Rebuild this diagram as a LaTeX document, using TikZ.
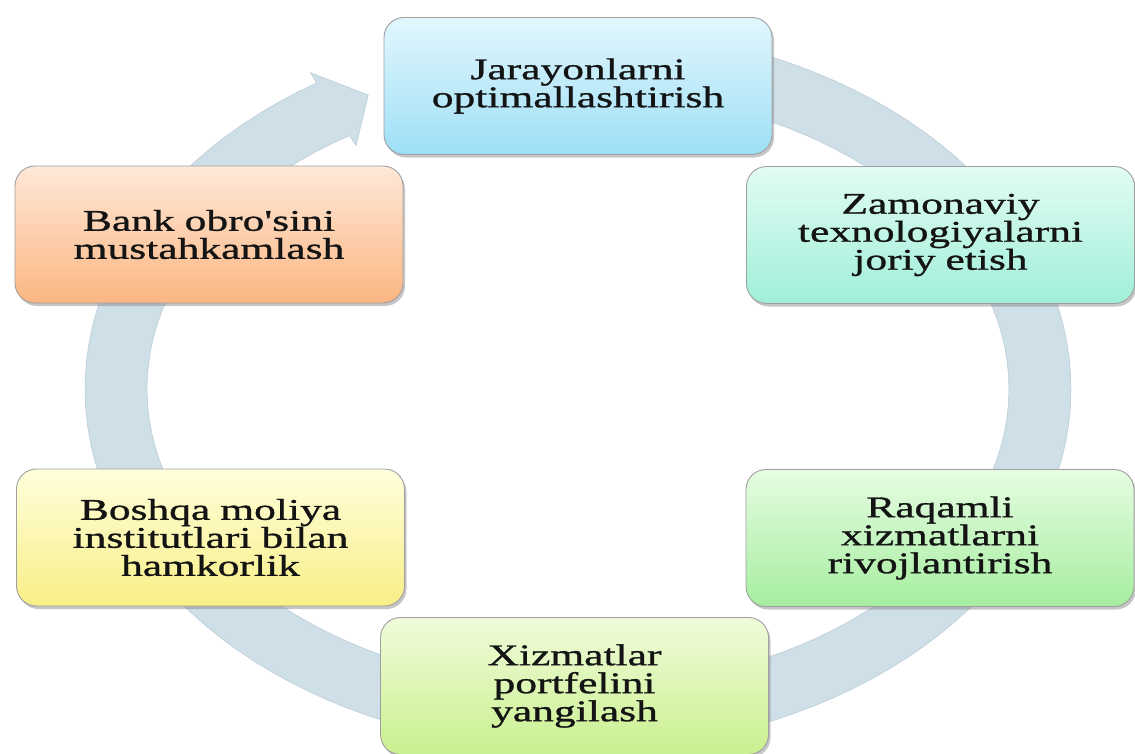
\documentclass[tikz,border=0pt]{standalone}
\usepackage{fontspec}
\usetikzlibrary{shadows}
\newfontfamily\boxfont{Liberation Serif}[FakeStretch=1.45, FakeBold=1]
\definecolor{ringcol}{HTML}{CFDFE8}
\definecolor{ringedge}{HTML}{BCCCD6}
\definecolor{blueT}{HTML}{E2F7FD}\definecolor{blueB}{HTML}{9EDFF6}
\definecolor{tealT}{HTML}{E2FCF5}\definecolor{tealB}{HTML}{A0EFD8}
\definecolor{grnT}{HTML}{E6FCE2}\definecolor{grnB}{HTML}{A6EEA0}
\definecolor{limT}{HTML}{F0FCDA}\definecolor{limB}{HTML}{C9F08F}
\definecolor{yelT}{HTML}{FFFEDC}\definecolor{yelB}{HTML}{F8EF86}
\definecolor{orgT}{HTML}{FEE8D8}\definecolor{orgB}{HTML}{FBB682}
\tikzset{
  cyclebox/.style={draw=gray!75, line width=0.9pt, rounded corners=20pt,
    minimum width=388pt, minimum height=137pt, text width=370pt, align=center,
    inner sep=0pt, shading=axis, shading angle=0,
    drop shadow={shadow xshift=2pt, shadow yshift=-3pt, opacity=0.45},
    font=\boxfont\fontsize{30}{28}\selectfont, text=black!92}
}
\begin{document}
\begin{tikzpicture}[x=1pt,y=-1pt]
\useasboundingbox (0,0) rectangle (1135,753);
% cycle ring with arrow head
\fill[ringcol, draw=ringedge, line width=0.6pt]
  plot[domain=80:-238, samples=120, variable=\t] ({578+493*cos(\t)},{389-361*sin(\t)})
  -- (310.4,72.7) -- (368.3,95) -- (356,145.6)
  -- plot[domain=-238:80, samples=120, variable=\t] ({578+431*cos(\t)},{389-299*sin(\t)})
  -- cycle;
\begin{scope}
\clip (0,0) rectangle (1135,753);
\node[cyclebox, top color=blueT, bottom color=blueB] (n1) at (578,86) {Jarayonlarni\\optimallashtirish};
\node[cyclebox, top color=tealT, bottom color=tealB] (n2) at (940.5,235) {Zamonaviy\\texnologiyalarni\\joriy etish};
\node[cyclebox, top color=grnT, bottom color=grnB] (n3) at (940,538) {Raqamli\\xizmatlarni\\rivojlantirish};
\node[cyclebox, top color=limT, bottom color=limB] (n4) at (574.5,686) {Xizmatlar\\portfelini\\yangilash};
\node[cyclebox, top color=yelT, bottom color=yelB] (n5) at (210.5,537.5) {Boshqa moliya\\institutlari bilan\\hamkorlik};
\node[cyclebox, top color=orgT, bottom color=orgB] (n6) at (209,234.5) {Bank obro'sini\\mustahkamlash};
\end{scope}
\end{tikzpicture}
\end{document}
